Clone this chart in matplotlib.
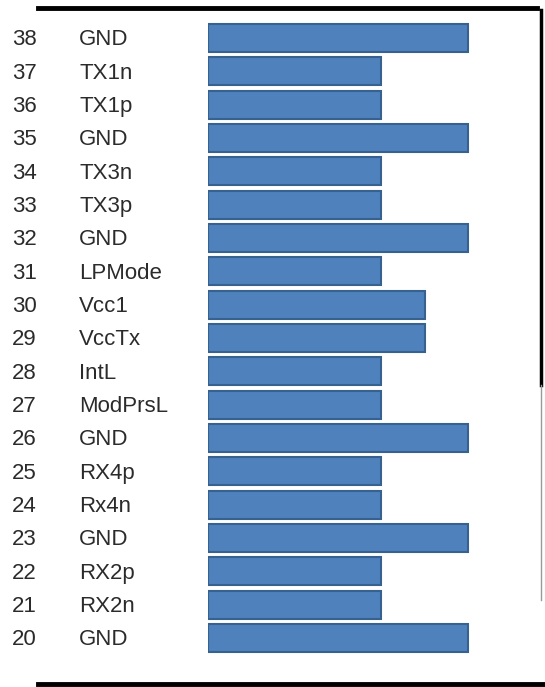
import matplotlib.pyplot as plt
from matplotlib.transforms import blended_transform_factory

pins = [38, 37, 36, 35, 34, 33, 32, 31, 30, 29, 28, 27, 26, 25, 24, 23, 22, 21, 20]
names = ["GND", "TX1n", "TX1p", "GND", "TX3n", "TX3p", "GND", "LPMode", "Vcc1",
         "VccTx", "IntL", "ModPrsL", "GND", "RX4p", "Rx4n", "GND", "RX2p", "RX2n", "GND"]
lengths = [3, 2, 2, 3, 2, 2, 3, 2, 2.5, 2.5, 2, 2, 3, 2, 2, 3, 2, 2, 3]

W, H = 545, 687
fig = plt.figure(figsize=(W / 100, H / 100), dpi=100)
fig.patch.set_facecolor("white")

# axes placed so bars start at ~208px and pin rows are ~33px apart
ax = fig.add_axes([208 / W, 15.5 / H, 312 / W, 666.7 / H])
ax.barh(pins, lengths, height=0.84, color="#4F81BD", edgecolor="#37618F", linewidth=1.5)
ax.set_xlim(0, 3.6)
ax.set_ylim(19, 39)
ax.axis("off")

tr = blended_transform_factory(fig.transFigure, ax.transData)
for p, n in zip(pins, names):
    ax.text(12 / W, p - 0.05, str(p), transform=tr, ha="left", va="center",
            fontsize=16, color="#2b2b2b", family="Liberation Sans")
    ax.text(79 / W, p - 0.05, n, transform=tr, ha="left", va="center",
            fontsize=16, color="#2b2b2b", family="Liberation Sans")

# frame lines around the connector
fig.add_artist(plt.Line2D([38 / W, 537 / W], [1 - 8 / H, 1 - 8 / H], color="black", lw=3.5))
fig.add_artist(plt.Line2D([541 / W, 541 / W], [1 - 10 / H, 1 - 385 / H], color="black", lw=2.5))
fig.add_artist(plt.Line2D([541 / W, 541 / W], [1 - 385 / H, 1 - 600 / H], color="#999999", lw=1))
fig.add_artist(plt.Line2D([38 / W, 1], [1 - 684 / H, 1 - 684 / H], color="black", lw=3.5))

fig.savefig("out.png", dpi=100)
